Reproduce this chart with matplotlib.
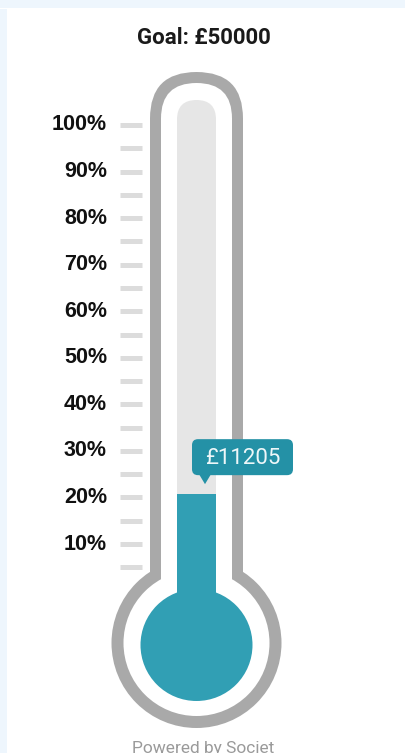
import matplotlib
matplotlib.use("Agg")
import matplotlib.pyplot as plt
from matplotlib.patches import FancyBboxPatch, Circle, Rectangle, Polygon

# data
goal = 50000
raised = 11205
pct_labels = [10, 20, 30, 40, 50, 60, 70, 80, 90, 100]
pct_ticks = [5, 10, 15, 20, 25, 30, 35, 40, 45, 50, 55, 60, 65, 70, 75, 80, 85, 90, 95, 100]

W, H = 406, 753
teal = "#319fb4"
tip_col = "#2491a6"
ring = "#a9a9a9"
tube = "#e6e6e6"

# percent -> pixel row (100% at y=125, 10% at y=544)
K = (544 - 125) / 90.0
Y0 = 125 + 100 * K

def pix(p):
    return Y0 - K * p

fig = plt.figure(figsize=(W / 100, H / 100), dpi=100)
fig.patch.set_facecolor("white")

# decoration layer, pixel coords
ax0 = fig.add_axes([0, 0, 1, 1])
ax0.set_xlim(0, W)
ax0.set_ylim(H, 0)
ax0.axis("off")

ax0.add_patch(Rectangle((0, 0), W, 8, fc="#eef6fd", ec="none"))
ax0.add_patch(Rectangle((0, 9), 7, H, fc="#eef6fd", ec="none"))

cx = 196.5
ax0.add_patch(FancyBboxPatch((cx - 46.5, 72), 93, 600,
                             boxstyle="round,pad=0,rounding_size=46.5", fc=ring, ec="none"))
ax0.add_patch(Circle((cx, 643), 85, fc=ring, ec="none"))
ax0.add_patch(FancyBboxPatch((cx - 35.5, 83), 71, 600,
                             boxstyle="round,pad=0,rounding_size=35.5", fc="white", ec="none"))
ax0.add_patch(Circle((cx, 643), 73, fc="white", ec="none"))
ax0.add_patch(FancyBboxPatch((cx - 19.5, 100), 39, 520,
                             boxstyle="round,pad=0,rounding_size=19.5", fc=tube, ec="none"))
ax0.add_patch(Circle((cx, 645), 56, fc=teal, ec="none"))

# data layer, y in percent
ax = fig.add_axes([0, 0, 1, 1])
ax.patch.set_alpha(0)
ax.set_xlim(0, W)
ax.set_ylim((Y0 - H) / K, Y0 / K)
ax.axis("off")

col_bottom = (Y0 - 608) / K
col_top = (Y0 - 100) / K
frac = raised / goal
fill_top = col_bottom + frac * (col_top - col_bottom)
ax.bar(cx, fill_top - col_bottom, bottom=col_bottom, width=39, color=teal, zorder=3)

ax.hlines(pct_ticks, 120, 142, colors="#dcdcdc", linewidth=3.6, zorder=2)
for p in pct_labels:
    ax.text(107, p, f"{p}%", ha="right", va="center", fontsize=15.5,
            fontweight="bold", family="Liberation Sans", color="#111111")

# tooltip
ty = pix(fill_top)
ax0.add_patch(FancyBboxPatch((192, ty - 55), 101, 36,
                             boxstyle="round,pad=0,rounding_size=6", fc=tip_col, ec="none", zorder=5))
ax0.add_patch(Polygon([[199, ty - 20], [211, ty - 20], [205, ty - 10]], closed=True,
                      fc=tip_col, ec="none", zorder=5))
ax0.text(242.5, ty - 36, f"£{raised}", ha="center", va="center", fontsize=16,
         family="Roboto", color="#eef7f9", zorder=6)

ax0.text(203.5, 38, f"Goal: £{goal}", ha="center", va="center", fontsize=16,
         family="Roboto", fontweight="bold", color="#1a1a1a")
ax0.text(203.5, 741, "Powered by Societ", ha="center", va="top", fontsize=12.5,
         family="Roboto", color="#9a9a9a")

fig.savefig("out.png", dpi=100)
